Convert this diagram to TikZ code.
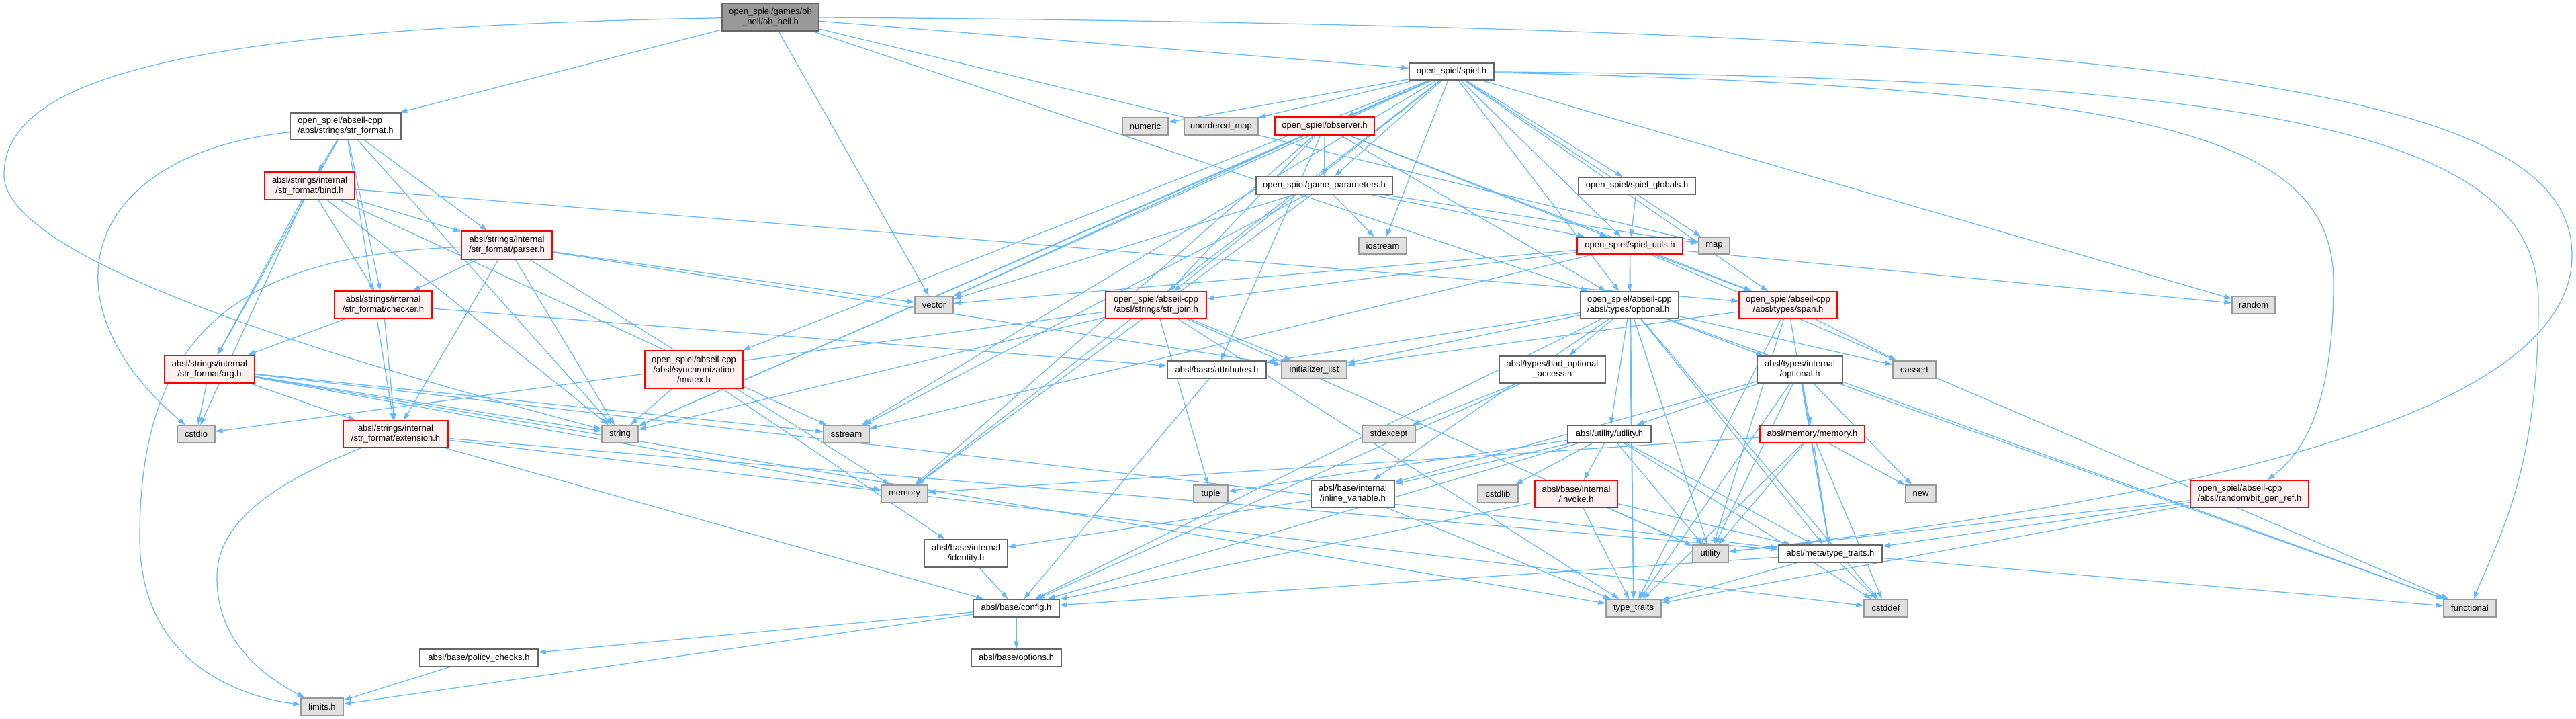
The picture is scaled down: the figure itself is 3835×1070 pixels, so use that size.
\documentclass[tikz,border=0pt]{standalone}
\usepackage{fontspec}
\setmainfont{Liberation Sans}
\usetikzlibrary{arrows.meta,backgrounds}

\definecolor{edgeblue}{HTML}{63B8FF}
\definecolor{rootfill}{HTML}{999999}
\definecolor{boxline}{HTML}{666666}
\definecolor{sysfill}{HTML}{E0E0E0}
\definecolor{sysline}{HTML}{999999}
\definecolor{redfill}{HTML}{FFF0F0}

\begin{document}
\begin{tikzpicture}[
    x=0.02cm, y=-0.02cm,
    >={Triangle[length=0.22cm,width=0.15cm]},
    font=\fontsize{7.4}{8.5}\selectfont,
    every node/.style={align=center, inner sep=0pt},
    wh/.style 2 args={minimum width=#1*0.02cm, minimum height=#2*0.02cm},
    rootbox/.style={draw=boxline, fill=rootfill, line width=0.85pt},
    filebox/.style={draw=boxline, fill=white, line width=0.85pt},
    redbox/.style={draw=red, fill=redfill, line width=0.8pt},
    sysbox/.style={draw=sysline, fill=sysfill, line width=0.85pt},
    inc/.style={->, draw=edgeblue, line width=0.7pt}
]

\useasboundingbox (0,0) rectangle (3835,1070);

% -------------------------------------------------
% ROW 0-2
% -------------------------------------------------
\node[rootbox, wh={144}{41}] (ohhell) at (1147,25.5) {open\_spiel/games/oh\\\_hell/oh\_hell.h};
\node[filebox, wh={126}{25}] (spiel) at (2161,106.5) {open\_spiel/spiel.h};

\node[filebox, wh={165}{40}, align=left] (strformat) at (514.5,188) {open\_spiel/abseil-cpp\\/absl/strings/str\_format.h};
\node[sysbox, wh={68}{26}] (numeric) at (1705,188) {numeric};
\node[sysbox, wh={110}{26}] (unorderedmap) at (1818,188) {unordered\_map};
\node[redbox, wh={148}{27}] (observer) at (1972,187.5) {open\_spiel/observer.h};

\node[redbox, wh={134}{41}] (bind) at (461,276.5) {absl/strings/internal\\/str\_format/bind.h};
\node[filebox, wh={203}{26}] (gameparams) at (1971.5,276) {open\_spiel/game\_parameters.h};
\node[filebox, wh={174}{25}] (spielglobals) at (2437,276.5) {open\_spiel/spiel\_globals.h};

% -------------------------------------------------
% ROW 3-4
% -------------------------------------------------
\node[redbox, wh={135}{42}] (parser) at (754.5,365) {absl/strings/internal\\/str\_format/parser.h};
\node[sysbox, wh={71}{25}] (iostream) at (2058.5,365.5) {iostream};
\node[redbox, wh={157}{25}] (spielutils) at (2426.5,365.5) {open\_spiel/spiel\_utils.h};
\node[sysbox, wh={46}{25}] (map) at (2552,365.5) {map};

\node[redbox, wh={145}{41}] (checker) at (570.5,453.5) {absl/strings/internal\\/str\_format/checker.h};
\node[sysbox, wh={57}{26}] (vector) at (1390.5,454) {vector};
\node[redbox, wh={150}{40}, align=left] (strjoin) at (1721,454) {open\_spiel/abseil-cpp\\/absl/strings/str\_join.h};
\node[filebox, wh={146}{40}, align=left] (optional) at (2426,454) {open\_spiel/abseil-cpp\\/absl/types/optional.h};
\node[redbox, wh={146}{40}] (span) at (2662,454) {open\_spiel/abseil-cpp\\/absl/types/span.h};
\node[sysbox, wh={64}{26}] (random) at (3355,454) {random};

% -------------------------------------------------
% ROW 5-6
% -------------------------------------------------
\node[redbox, wh={134}{41}] (arg) at (312,549.5) {absl/strings/internal\\/str\_format/arg.h};
\node[redbox, wh={146}{56}] (mutex) at (1033,550) {open\_spiel/abseil-cpp\\/absl/synchronization\\/mutex.h};
\node[filebox, wh={147}{26}] (attributes) at (1811.5,550) {absl/base/attributes.h};
\node[sysbox, wh={97}{26}] (initlist) at (1956.5,550) {initializer\_list};
\node[filebox, wh={158}{40}] (badopt) at (2311,550) {absl/types/bad\_optional\\\_access.h};
\node[filebox, wh={127}{40}] (intoptional) at (2679.5,550) {absl/types/internal\\/optional.h};
\node[sysbox, wh={64}{26}] (cassert) at (2850,550) {cassert};

\node[sysbox, wh={56}{26}] (cstdio) at (292,646) {cstdio};
\node[redbox, wh={156}{40}] (extension) at (589,646) {absl/strings/internal\\/str\_format/extension.h};
\node[sysbox, wh={54}{26}] (string) at (923,646) {string};
\node[sysbox, wh={68}{26}] (sstream) at (1260,646) {sstream};
\node[sysbox, wh={79}{26}] (stdexcept) at (2067.5,646) {stdexcept};
\node[filebox, wh={124}{26}] (utility) at (2396,646) {absl/utility/utility.h};
\node[redbox, wh={156}{26}] (memoryh) at (2698,646) {absl/memory/memory.h};

% -------------------------------------------------
% ROW 7-10
% -------------------------------------------------
\node[sysbox, wh={69}{26}] (memory) at (1346.5,735) {memory};
\node[sysbox, wh={51}{26}] (tuple) at (1802.5,735) {tuple};
\node[filebox, wh={124}{40}] (inlinevar) at (2014,735) {absl/base/internal\\/inline\_variable.h};
\node[sysbox, wh={60}{26}] (cstdlib) at (2230,735) {cstdlib};
\node[redbox, wh={123}{40}] (invoke) at (2346.5,735) {absl/base/internal\\/invoke.h};
\node[sysbox, wh={45}{26}] (new) at (2859.5,735) {new};
\node[redbox, wh={176}{40}, align=left] (bitgenref) at (3349,735) {open\_spiel/abseil-cpp\\/absl/random/bit\_gen\_ref.h};

\node[filebox, wh={124}{41}] (identity) at (1438,823.5) {absl/base/internal\\/identity.h};
\node[sysbox, wh={53}{26}] (utilitys) at (2546.5,824) {utility};
\node[filebox, wh={154}{26}] (typetraitsh) at (2725,824) {absl/meta/type\_traits.h};

\node[filebox, wh={128}{26}] (config) at (1513,905) {absl/base/config.h};
\node[sysbox, wh={82}{26}] (typetraits) at (2432,905) {type\_traits};
\node[sysbox, wh={65}{26}] (cstddef) at (2807.5,905) {cstddef};
\node[sysbox, wh={78}{26}] (functional) at (3677,905) {functional};

\node[filebox, wh={176}{26}] (policy) at (713,979) {absl/base/policy\_checks.h};
\node[filebox, wh={134}{26}] (options) at (1513,979) {absl/base/options.h};
\node[sysbox, wh={63}{26}] (limits) at (479.5,1052) {limits.h};

% bend points of the long edges
\coordinate (leftbend) at (6,260);
\coordinate (parserbend) at (208,800);
\coordinate (extbend) at (323,860);
\coordinate (rightbend) at (3829,380);
\coordinate (funcbend) at (3779,450);
\coordinate (bitbend) at (3474,420);

% =================================================
% INCLUDE EDGES (behind the boxes)
% =================================================
\begin{scope}[on background layer]

% oh_hell.h
\foreach \t in {strformat,spiel,map,optional,vector}
    \draw[inc] (ohhell) -- (\t);
\draw[inc] (ohhell) .. controls (300,40) and (6,110) .. (leftbend)
    .. controls (6,400) and (600,560) .. (string);
\draw[inc] (ohhell) .. controls (3300,40) and (3829,140) .. (rightbend)
    .. controls (3829,650) and (3100,760) .. (utilitys);

% spiel.h
\foreach \t in {numeric,unorderedmap,observer,gameparams,spielglobals,iostream,spielutils,map,random,
                strjoin,mutex,optional,span,vector,memory,string,sstream}
    \draw[inc] (spiel) -- (\t);
\draw[inc] (spiel) .. controls (3200,130) and (3474,200) .. (bitbend)
    .. controls (3474,620) and (3420,680) .. (bitgenref);
\draw[inc] (spiel) .. controls (3400,115) and (3779,200) .. (funcbend)
    .. controls (3779,700) and (3720,800) .. (functional);

% open_spiel headers
\foreach \t in {gameparams,spielutils,optional,span,strjoin,attributes,vector,string,memory}
    \draw[inc] (observer) -- (\t);
\foreach \t in {iostream,map,spielutils,memory,vector,sstream}
    \draw[inc] (gameparams) -- (\t);
\draw[inc] (spielglobals) -- (spielutils);
\foreach \t in {optional,span,strjoin,vector,sstream,random,functional,typetraits}
    \draw[inc] (spielutils) -- (\t);

% str_format family
\foreach \t in {string,arg,bind,checker,extension,parser}
    \draw[inc] (strformat) -- (\t);
\draw[inc] (strformat) .. controls (120,230) and (60,450) .. (cstdio);
\foreach \t in {arg,cstdio,checker,parser,string,sstream,span}
    \draw[inc] (bind) -- (\t);
\foreach \t in {checker,extension,string,vector,initlist,memory}
    \draw[inc] (parser) -- (\t);
\draw[inc] (parser) .. controls (350,380) and (208,500) .. (parserbend)
    .. controls (208,1000) and (380,1040) .. (limits);
\foreach \t in {arg,extension,attributes}
    \draw[inc] (checker) -- (\t);
\foreach \t in {cstdio,extension,string,sstream,memory,typetraits,typetraitsh}
    \draw[inc] (arg) -- (\t);
\foreach \t in {config,typetraitsh,cstddef}
    \draw[inc] (extension) -- (\t);
\draw[inc] (extension) .. controls (380,730) and (323,790) .. (extbend)
    .. controls (323,960) and (400,1010) .. (limits);

% other abseil headers
\foreach \t in {identity,string}
    \draw[inc] (mutex) -- (\t);
\foreach \t in {cstdio,string,initlist,tuple,typetraits,utilitys}
    \draw[inc] (strjoin) -- (\t);
\draw[inc] (attributes) -- (config);
\foreach \t in {cassert,cstddef,functional,initlist,typetraits,utilitys,attributes,
                inlinevar,typetraitsh,badopt,intoptional,utility,config}
    \draw[inc] (optional) -- (\t);
\foreach \t in {cassert,initlist,typetraits,utilitys,typetraitsh}
    \draw[inc] (span) -- (\t);
\foreach \t in {stdexcept,config}
    \draw[inc] (badopt) -- (\t);
\foreach \t in {functional,new,typetraits,utilitys,inlinevar,memoryh,typetraitsh,utility}
    \draw[inc] (intoptional) -- (\t);
\foreach \t in {cstddef,cstdlib,tuple,utilitys,config,inlinevar,invoke,typetraitsh}
    \draw[inc] (utility) -- (\t);
\foreach \t in {cstddef,memory,new,typetraits,utilitys,typetraitsh}
    \draw[inc] (memoryh) -- (\t);
\foreach \t in {identity,typetraits}
    \draw[inc] (inlinevar) -- (\t);
\foreach \t in {config,typetraits,utilitys,typetraitsh}
    \draw[inc] (invoke) -- (\t);
\foreach \t in {config,cstddef,functional,typetraits}
    \draw[inc] (typetraitsh) -- (\t);
\foreach \t in {typetraits,utilitys,typetraitsh}
    \draw[inc] (bitgenref) -- (\t);

% absl/base
\draw[inc] (identity) -- (config);
\foreach \t in {options,policy,limits}
    \draw[inc] (config) -- (\t);
\draw[inc] (policy) -- (limits);

\end{scope}

\end{tikzpicture}
\end{document}
